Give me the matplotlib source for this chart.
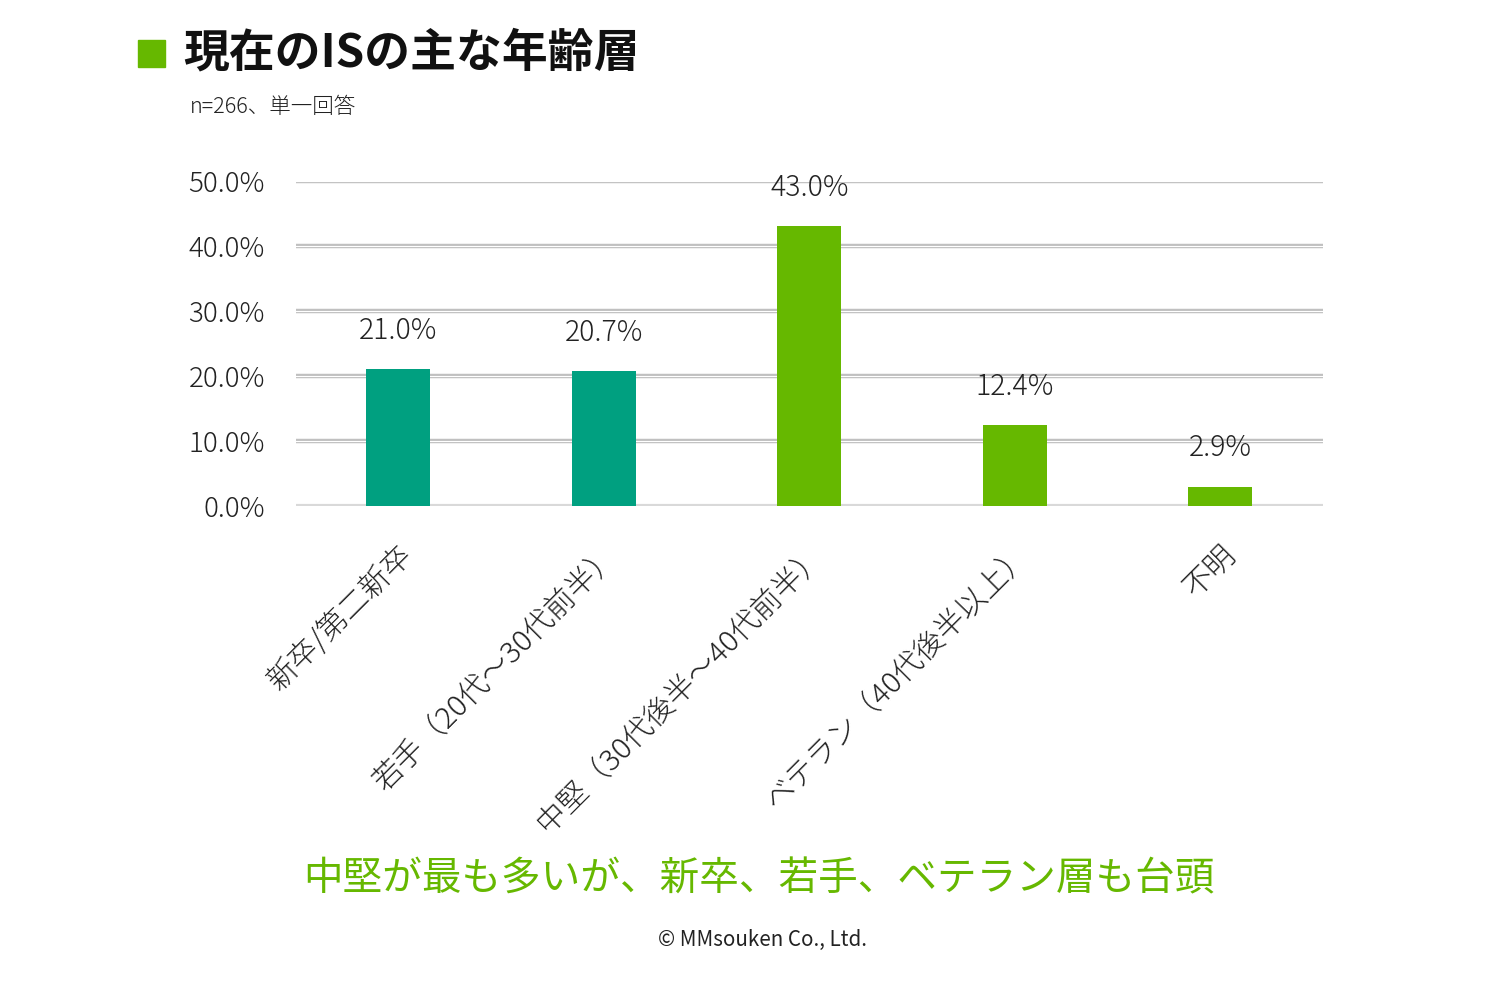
import matplotlib
matplotlib.use("Agg")
import matplotlib.pyplot as plt
import matplotlib.patheffects as pe
from matplotlib.patches import Rectangle

plt.rcParams['font.family'] = ['Noto Sans CJK JP', 'DejaVu Sans']

categories = ['新卒/第二新卒', '若手（20代～30代前半）', '中堅（30代後半～40代前半）',
              'ベテラン（40代後半以上）', '不明']
values = [21.0, 20.7, 43.0, 12.4, 2.9]
colors = ['#00A080', '#00A080', '#66B800', '#66B800', '#66B800']
yticks = [0, 10, 20, 30, 40, 50]

fig = plt.figure(figsize=(15, 9.84), dpi=100)
ax = fig.add_axes([0.197, 0.4858, 0.685, 0.3303])

x = range(len(categories))
ax.bar(x, values, width=0.31, color=colors, zorder=3)
for i, v in enumerate(values):
    ax.annotate(f'{v:.1f}%', (i, v), xytext=(0, 28), textcoords='offset points',
                ha='center', va='center', fontsize=20.5, color='#222222',
                fontweight='light')

ax.set_xlim(-0.5, len(categories) - 0.5)
ax.set_ylim(0, 50)
ax.set_yticks(yticks)
ax.set_yticklabels([f'{t:.1f}%' for t in yticks], fontsize=20, color='#222222',
                   fontweight='light')
ax.set_xticks(list(x))
ax.set_xticklabels(categories, rotation=45, ha='right', rotation_mode='anchor',
                   fontsize=21.5, color='#222222', fontweight='light')
ax.tick_params(axis='both', length=0)
ax.tick_params(axis='y', pad=22)
ax.tick_params(axis='x', pad=24)

for s in ax.spines.values():
    s.set_visible(False)

for t in yticks[1:]:
    ax.axhline(t, color='white', lw=0.8, zorder=1,
               path_effects=[pe.withStroke(linewidth=3.2, foreground='#c0c0c0')])
ax.axhline(0, color='#d9d9d9', lw=3, zorder=2)

# title block
fig.patches.append(Rectangle((138 / 1500, 1 - 67 / 984), 27 / 1500, 27 / 984,
                             transform=fig.transFigure, color='#66B800'))
fig.text(183 / 1500, 1 - 53 / 984, '現在のISの主な年齢層', fontsize=33, fontweight='bold',
         ha='left', va='center', color='#111111')
fig.text(190 / 1500, 1 - 107 / 984, 'n=266、単一回答', fontsize=15.5,
         ha='left', va='center', color='#222222', fontweight='light')

fig.text(759 / 1500, 1 - 879 / 984, '中堅が最も多いが、新卒、若手、ベテラン層も台頭',
         fontsize=28.5, ha='center', va='center', color='#66B800')
fig.text(762 / 1500, 1 - 940 / 984, '© MMsouken Co., Ltd.', fontsize=14.8,
         ha='center', va='center', color='#222222')

fig.savefig('out.png', dpi=100, facecolor='white')
